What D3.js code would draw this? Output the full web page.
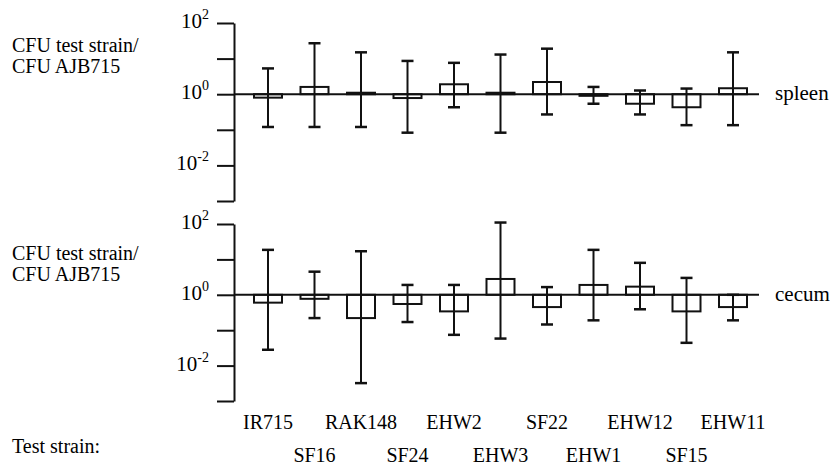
<!DOCTYPE html>
<html>
<head>
<meta charset="utf-8">
<script src="https://cdn.jsdelivr.net/npm/d3@7"></script>
<style>
  body { margin: 0; background: #fff; }
</style>
</head>
<body>
<svg id="chart" width="834" height="468"></svg>
<script>
// strains, in plotting order
let strains = ['IR715', 'SF16', 'RAK148', 'SF24', 'EHW2', 'EHW3', 'SF22', 'EHW1', 'EHW12', 'SF15', 'EHW11'];

// spleen: ratio (box), error low / high
let spleenRatio = [0.8, 1.6, 1.1, 0.78, 1.9, 1.1, 2.2, 0.9, 0.54, 0.43, 1.47];
let spleenLow   = [0.12, 0.12, 0.12, 0.083, 0.43, 0.083, 0.27, 0.54, 0.27, 0.135, 0.135];
let spleenHigh  = [5.3, 27, 15, 8.6, 7.6, 13, 19, 1.6, 1.27, 1.44, 15];

// cecum
let cecumRatio = [0.6, 0.77, 0.22, 0.55, 0.34, 2.8, 0.45, 1.9, 1.7, 0.34, 0.45];
let cecumLow   = [0.028, 0.22, 0.0032, 0.17, 0.074, 0.058, 0.145, 0.19, 0.39, 0.044, 0.19];
let cecumHigh  = [18.6, 4.5, 17, 1.9, 1.9, 110, 1.65, 18.6, 8, 3, 1.0];

let tickValues = [1e-3, 1e-2, 1e-1, 1e0, 1e1, 1e2];
let labelledTicks = [{ v: 1e2, exp: '2' }, { v: 1e0, exp: '0' }, { v: 1e-2, exp: '-2' }];

let serif = '"Liberation Serif", "Times New Roman", Times, "DejaVu Serif", serif';

let svg = d3.select('#chart')
    .attr('font-family', serif)
    .style('font-family', serif);

let x = d3.scalePoint().domain(strains).range([268, 733]);

let axisX = 234;
let boxW = 28;
let capW = 12;

function drawPanel(name, ratio, low, high, top, bottom, labelY) {
    let y = d3.scaleLog().domain([1e-3, 1e2]).range([bottom, top]);
    let g = svg.append('g');

    // y axis
    let axis = g.append('g')
        .attr('transform', `translate(${axisX},0)`)
        .call(d3.axisLeft(y).tickValues(tickValues).tickSize(17).tickSizeOuter(0).tickFormat(''));
    axis.selectAll('path, line').attr('stroke', '#111').attr('stroke-width', 2);

    // tick labels with superscripts
    labelledTicks.forEach(function(t) {
        let txt = g.append('text')
            .attr('x', 209)
            .attr('y', y(t.v) + 5)
            .attr('text-anchor', 'end')
            .style('font-family', serif)
            .style('font-size', '21px');
        txt.append('tspan').text('10');
        txt.append('tspan').attr('dy', -9).style('font-size', '14px').text(t.exp);
    });

    // y label
    let lab = g.append('text').attr('x', 12).attr('y', labelY)
        .style('font-family', serif).style('font-size', '20px');
    lab.append('tspan').attr('x', 12).text('CFU test strain/');
    lab.append('tspan').attr('x', 12).attr('dy', 21).text('CFU AJB715');

    let data = strains.map(function(s, i) {
        return { s: s, r: ratio[i], lo: low[i], hi: high[i] };
    });

    // boxes
    g.selectAll('rect.box').data(data).enter().append('rect')
        .attr('class', 'box')
        .attr('x', d => x(d.s) - boxW / 2)
        .attr('y', d => Math.min(y(d.r), y(1)))
        .attr('width', boxW)
        .attr('height', d => Math.max(Math.abs(y(d.r) - y(1)), 1.5))
        .attr('fill', '#fff')
        .attr('stroke', '#111')
        .attr('stroke-width', 2);

    // baseline at 10^0
    g.append('line')
        .attr('x1', axisX).attr('x2', 759)
        .attr('y1', y(1)).attr('y2', y(1))
        .attr('stroke', '#111').attr('stroke-width', 2);

    // error bars
    let eb = g.selectAll('g.err').data(data).enter().append('g').attr('class', 'err');
    eb.append('line')
        .attr('x1', d => x(d.s)).attr('x2', d => x(d.s))
        .attr('y1', d => y(d.lo)).attr('y2', d => y(d.hi))
        .attr('stroke', '#111').attr('stroke-width', 2);
    eb.append('line')
        .attr('x1', d => x(d.s) - capW / 2).attr('x2', d => x(d.s) + capW / 2)
        .attr('y1', d => y(d.lo)).attr('y2', d => y(d.lo))
        .attr('stroke', '#111').attr('stroke-width', 2.5);
    eb.append('line')
        .attr('x1', d => x(d.s) - capW / 2).attr('x2', d => x(d.s) + capW / 2)
        .attr('y1', d => y(d.hi)).attr('y2', d => y(d.hi))
        .attr('stroke', '#111').attr('stroke-width', 2.5);

    // organ label
    g.append('text')
        .attr('x', 775)
        .attr('y', y(1) + 6)
        .style('font-family', serif)
        .style('font-size', '21px')
        .text(name);
}

drawPanel('spleen', spleenRatio, spleenLow, spleenHigh, 23, 201, 52);
drawPanel('cecum', cecumRatio, cecumLow, cecumHigh, 224, 401, 260);

// strain labels, staggered in two rows
svg.selectAll('text.strain').data(strains).enter().append('text')
    .attr('class', 'strain')
    .attr('x', d => x(d))
    .attr('y', (d, i) => i % 2 === 0 ? 429 : 462)
    .attr('text-anchor', 'middle')
    .style('font-family', serif)
    .style('font-size', '20px')
    .text(d => d);

svg.append('text')
    .attr('x', 12)
    .attr('y', 453)
    .style('font-family', serif)
    .style('font-size', '20px')
    .text('Test strain:');
</script>
</body>
</html>
